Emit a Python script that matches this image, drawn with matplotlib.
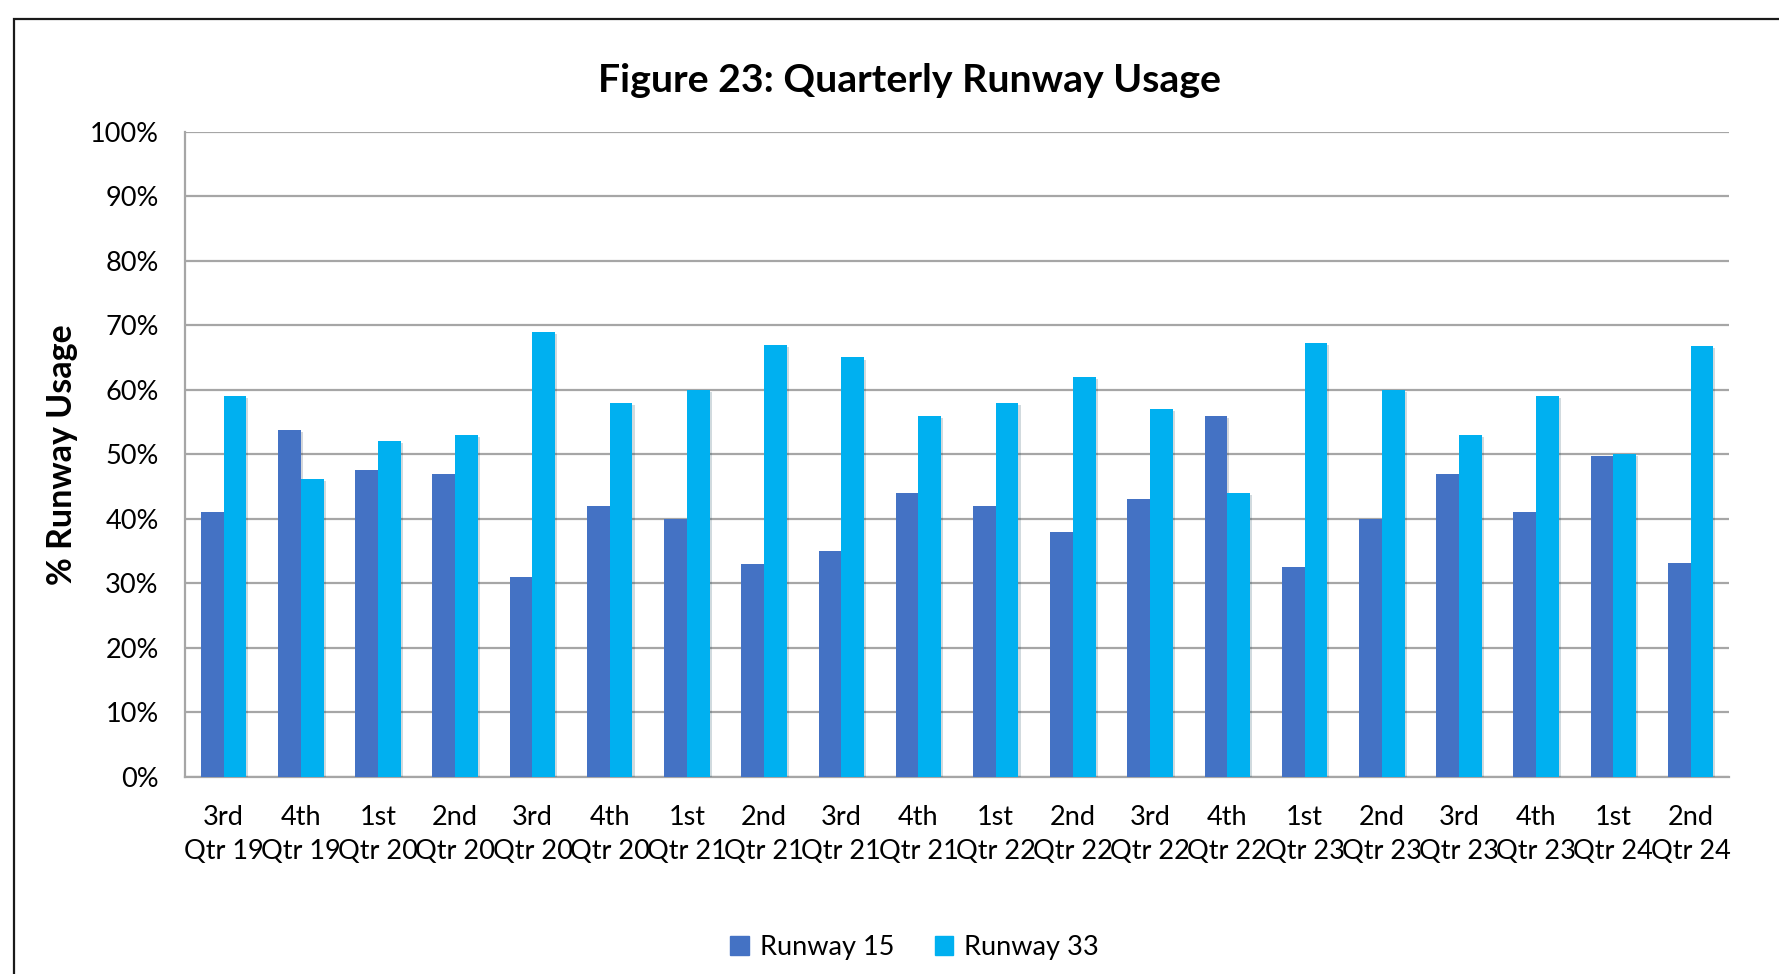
import numpy as np
import matplotlib
matplotlib.use("Agg")
import matplotlib.pyplot as plt
import matplotlib.patches as mpatches
import matplotlib.patheffects as pe
from matplotlib.ticker import FuncFormatter

plt.rcParams["font.family"] = ["Lato", "DejaVu Sans"]

quarters = ["3rd\nQtr 19", "4th\nQtr 19", "1st\nQtr 20", "2nd\nQtr 20", "3rd\nQtr 20",
            "4th\nQtr 20", "1st\nQtr 21", "2nd\nQtr 21", "3rd\nQtr 21", "4th\nQtr 21",
            "1st\nQtr 22", "2nd\nQtr 22", "3rd\nQtr 22", "4th\nQtr 22", "1st\nQtr 23",
            "2nd\nQtr 23", "3rd\nQtr 23", "4th\nQtr 23", "1st\nQtr 24", "2nd\nQtr 24"]
runway15 = [41.0, 53.8, 47.5, 47.0, 31.0, 42.0, 40.0, 33.0, 35.0, 44.0,
            42.0, 38.0, 43.0, 56.0, 32.6, 40.0, 47.0, 41.0, 49.7, 33.2]
runway33 = [59.0, 46.2, 52.0, 53.0, 69.0, 58.0, 60.0, 67.0, 65.0, 56.0,
            58.0, 62.0, 57.0, 44.0, 67.3, 60.0, 53.0, 59.0, 50.1, 66.8]

C15 = "#4472C4"
C33 = "#00B0F0"
GRID = "#A6A6A6"

fig = plt.figure(figsize=(17.79, 9.74), dpi=100)
ax = fig.add_axes([0.104, 0.2023, 0.868, 0.6626])

x = np.arange(len(quarters))
w = 0.295
shadow = [pe.SimplePatchShadow(offset=(1.5, -1.5), alpha=0.18), pe.Normal()]
b1 = ax.bar(x - w / 2, runway15, width=w, color=C15, zorder=3, label="Runway 15")
b2 = ax.bar(x + w / 2, runway33, width=w, color=C33, zorder=3, label="Runway 33")
for p in list(b1) + list(b2):
    p.set_path_effects(shadow)

ax.set_xlim(-0.5, len(quarters) - 0.5)
ax.set_ylim(0, 100)
ax.set_yticks(np.arange(0, 101, 10))
ax.yaxis.set_major_formatter(FuncFormatter(lambda v, p: f"{v:.0f}%"))
ax.grid(axis="y", color=GRID, linewidth=1.6, zorder=0)
ax.set_xticks(x)
ax.set_xticklabels(quarters, fontsize=19.5, linespacing=1.45)
ax.tick_params(axis="y", length=0, pad=19, labelsize=19.5)
ax.tick_params(axis="x", length=0, pad=20)

for s in ["top", "right"]:
    ax.spines[s].set_visible(False)
for s in ["left", "bottom"]:
    ax.spines[s].set_color(GRID)
    ax.spines[s].set_linewidth(1.6)

ax.set_ylabel("% Runway Usage", fontsize=24.5, fontweight="bold")
ax.yaxis.set_label_coords(-0.069, 0.5)

fig.text(0.511, 0.9175, "Figure 23: Quarterly Runway Usage",
         ha="center", va="center", fontsize=28.3, fontweight="bold")

handles = [mpatches.Patch(color=C15, label="Runway 15"),
           mpatches.Patch(color=C33, label="Runway 33")]
fig.legend(handles=handles, loc="center", bbox_to_anchor=(0.514, 0.027),
           ncol=2, frameon=False, fontsize=19.5, handlelength=0.7,
           handleheight=0.7, handletextpad=0.4, columnspacing=1.5)

# outer chart frame (right/bottom edges fall outside the picture)
fig.patches.append(mpatches.Rectangle((0.0076, -0.05), 1.2, 1.0305,
                                      transform=fig.transFigure, fill=False,
                                      edgecolor="#1a1a1a", linewidth=1.6))

fig.savefig("out.png", dpi=100, facecolor="white")
